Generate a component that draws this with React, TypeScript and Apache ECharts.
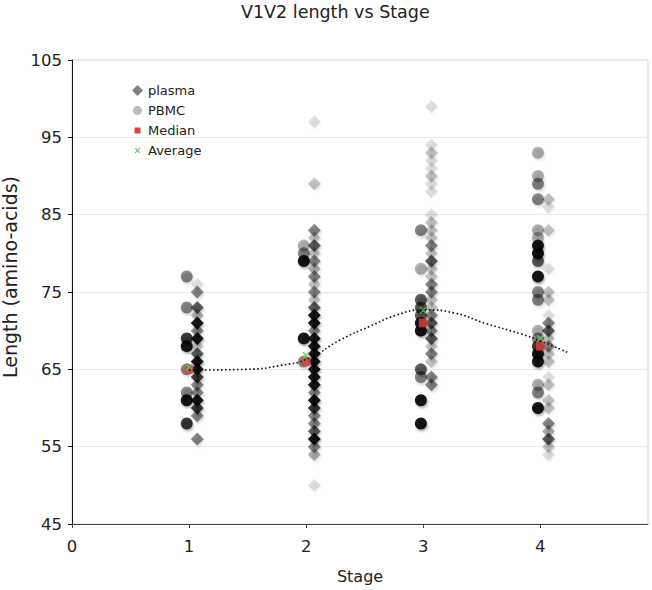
import React, { useEffect, useRef } from "react";
import * as echarts from "echarts";

// ---- Data: [length, number of overlapping sequences] ----
const stages = [1, 2, 3, 4];

const plasmaStage1 = [[76,1],[75,5],[73,8],[72,3],[71,20],[70,5],[69,20],[68,2],[67,8],[66,20],[65,20],[64,12],[63,5],[62,5],[61,20],[60,12],[59,5],[56,5]];
const plasmaStage2 = [[97,1],[89,2],[83,5],[82,2],[81,8],[80,2],[79,5],[78,3],[77,5],[76,2],[75,5],[74,2],[73,8],[72,20],[71,20],[70,5],[69,20],[68,20],[67,20],[66,20],[65,20],[64,20],[63,20],[62,5],[61,20],[60,12],[59,5],[58,5],[57,8],[56,20],[55,5],[54,3],[50,1]];
const plasmaStage3 = [[99,1],[94,1],[93,2],[92,1],[91,1],[90,2],[89,1],[88,1],[85,1],[84,2],[83,2],[82,2],[81,5],[80,2],[79,8],[78,2],[77,2],[76,5],[75,5],[74,2],[73,2],[72,5],[71,8],[70,5],[69,8],[68,2],[67,5],[66,2],[64,5],[63,5]];
const plasmaStage4 = [[87,2],[86,1],[83,2],[78,1],[75,2],[74,2],[72,1],[71,5],[70,8],[69,2],[68,5],[67,2],[66,2],[64,1],[63,2],[61,2],[60,2],[58,5],[57,3],[56,8],[55,2],[54,1]];

const pbmcStage1 = [[77,5],[73,5],[69,12],[68,20],[65,5],[62,5],[61,20],[58,12]];
const pbmcStage2 = [[81,3],[80,5],[79,20],[69,20],[66,5]];
const pbmcStage3 = [[83,5],[78,3],[74,8],[73,8],[72,8],[71,20],[70,20],[65,8],[64,5],[61,20],[58,20]];
const pbmcStage4 = [[93,3],[90,3],[89,5],[87,5],[83,3],[82,3],[81,20],[80,20],[79,8],[77,20],[75,5],[74,5],[70,3],[69,5],[68,12],[67,20],[66,20],[63,3],[62,5],[60,20]];

const medians = [65, 66, 71, 68];
const averages = [65.3, 66.8, 72.6, 69.0];

// dotted trend curve
const trendX = [1, 1.5, 1.78, 2.02, 2.29, 2.55, 2.77, 3.0, 3.26, 3.54, 3.83, 4.03, 4.23];
const trendY = [64.9, 65.0, 65.5, 66.4, 68.8, 70.6, 72.0, 72.7, 72.3, 70.9, 69.6, 68.5, 67.2];

const yTicks = { min: 45, max: 105, interval: 10 };
const xTicks = { min: 0, max: 4.92, interval: 1 };

// ---- presentation ----
const PLASMA_OFFSET = 0.07;
const PBMC_OFFSET = -0.02;
const BASE_ALPHA = 0.11;
const FONT = "DejaVu Sans";
const CROSS = "path://M0,0L3,0L10,7L17,0L20,0L20,3L13,10L20,17L20,20L17,20L10,13L3,20L0,20L0,17L7,10L0,3Z";
// legend icons (11x11 box, tiny corner anchors keep the box size)
const ANCHORS = "M0,0L0.01,0L0,0.01Z M11,11L10.99,11L11,10.99Z ";
const LEG_CIRCLE = "path://" + ANCHORS + "M1,5.5A4.5,4.5 0 1 1 10,5.5A4.5,4.5 0 1 1 1,5.5Z";
const LEG_SQUARE = "path://" + ANCHORS + "M2.5,2.5L8.5,2.5L8.5,8.5L2.5,8.5Z";
const LEG_CROSS = "path://" + ANCHORS + "M3,3L3.8,3L5.5,4.7L7.2,3L8,3L8,3.8L6.3,5.5L8,7.2L8,8L7.2,8L5.5,6.3L3.8,8L3,8L3,7.2L4.7,5.5L3,3.8Z";

function buildPoints(groups: number[][][], offset: number) {
  const out: any[] = [];
  groups.forEach((g, i) => {
    g.forEach(([v, c]) => {
      out.push({
        value: [stages[i] + offset, v],
        itemStyle: { opacity: 1 - Math.pow(1 - BASE_ALPHA, c) },
      });
    });
  });
  return out;
}

export default function App() {
  const ref = useRef<HTMLDivElement>(null);
  useEffect(() => {
    if (!ref.current) return;
    const chart = echarts.init(ref.current, undefined, { renderer: "svg" });
    const shadow = { shadowColor: "rgba(0,0,0,0.35)", shadowBlur: 2, shadowOffsetX: 1, shadowOffsetY: 2 };
    const noShadow = { shadowBlur: 0, shadowOffsetX: 0, shadowOffsetY: 0, shadowColor: "transparent", opacity: 1 };
    chart.setOption({
      animation: false,
      backgroundColor: "#fff",
      title: {
        text: "V1V2 length vs Stage",
        left: 241,
        top: 3,
        padding: 0,
        textStyle: { fontFamily: FONT, fontSize: 17.5, fontWeight: "normal", color: "#222" },
      },
      legend: {
        orient: "vertical",
        left: 132,
        top: 84,
        itemWidth: 11,
        itemHeight: 11,
        itemGap: 7,
        padding: 0,
        textStyle: { fontFamily: FONT, fontSize: 13, color: "#222" },
        data: [
          { name: "plasma", icon: "diamond", itemStyle: { color: "#808080", ...noShadow } },
          { name: "PBMC", icon: LEG_CIRCLE, itemStyle: { color: "#bdbdbd", ...noShadow } },
          { name: "Median", icon: LEG_SQUARE, itemStyle: { color: "#e0453c", opacity: 1 } },
          { name: "Average", icon: LEG_CROSS, itemStyle: { color: "#5cc95c", opacity: 1 } },
        ],
      },
      grid: {
        left: 72, right: 4, top: 60, bottom: 66,
        containLabel: false,
        outerBoundsMode: "none",
        show: true, borderColor: "#d4d4d4", borderWidth: 1,
      },
      xAxis: {
        type: "value",
        min: xTicks.min,
        max: xTicks.max,
        interval: xTicks.interval,
        name: "Stage",
        nameLocation: "middle",
        nameGap: 44,
        nameTextStyle: { fontFamily: FONT, fontSize: 16, color: "#222" },
        axisLine: { show: true, onZero: false, lineStyle: { color: "#444", width: 1 } },
        axisTick: { show: true, length: 4, lineStyle: { color: "#444" } },
        axisLabel: {
          fontFamily: FONT, fontSize: 16.5, color: "#222", margin: 14, showMaxLabel: false,
          formatter: (v: number) => (Number.isInteger(v) ? String(v) : ""),
        },
        splitLine: { show: false },
      },
      yAxis: {
        type: "value",
        min: yTicks.min,
        max: yTicks.max,
        interval: yTicks.interval,
        name: "Length (amino-acids)",
        nameLocation: "middle",
        nameGap: 42,
        nameTextStyle: { fontFamily: FONT, fontSize: 19, color: "#222", padding: [0, 0, 0, 30] },
        axisLine: { show: true, lineStyle: { color: "#111", width: 1 } },
        axisTick: { show: true, length: 4, lineStyle: { color: "#111" } },
        axisLabel: { fontFamily: FONT, fontSize: 16.5, color: "#222", margin: 10 },
        splitLine: { show: true, lineStyle: { color: "#ebebeb", width: 1 } },
      },
      series: [
        {
          name: "plasma",
          type: "scatter",
          symbol: "diamond",
          symbolSize: 13,
          itemStyle: { color: "#000", ...shadow },
          data: buildPoints([plasmaStage1, plasmaStage2, plasmaStage3, plasmaStage4], PLASMA_OFFSET),
          z: 2,
        },
        {
          name: "PBMC",
          type: "scatter",
          symbol: "circle",
          symbolSize: 12,
          itemStyle: { color: "#000", ...shadow },
          data: buildPoints([pbmcStage1, pbmcStage2, pbmcStage3, pbmcStage4], PBMC_OFFSET),
          z: 3,
        },
        {
          name: "Median",
          type: "scatter",
          symbol: "rect",
          symbolSize: 9,
          itemStyle: { color: "#e0453c" },
          data: stages.map((s, i) => [s, medians[i]]),
          z: 4,
        },
        {
          name: "Average",
          type: "scatter",
          symbol: CROSS,
          symbolSize: 7,
          itemStyle: { color: "#5cc95c" },
          data: stages.map((s, i) => [s, averages[i]]),
          z: 5,
        },
        {
          name: "trend",
          type: "line",
          smooth: true,
          showSymbol: false,
          symbol: "none",
          lineStyle: { color: "#111", width: 1.6, type: [1.6, 2.4] },
          data: trendX.map((x, i) => [x, trendY[i]]),
          z: 6,
          silent: true,
        },
      ],
    });
    return () => chart.dispose();
  }, []);
  return <div ref={ref} style={{ position: "fixed", left: 0, top: 0, width: 652, height: 590 }} />;
}
